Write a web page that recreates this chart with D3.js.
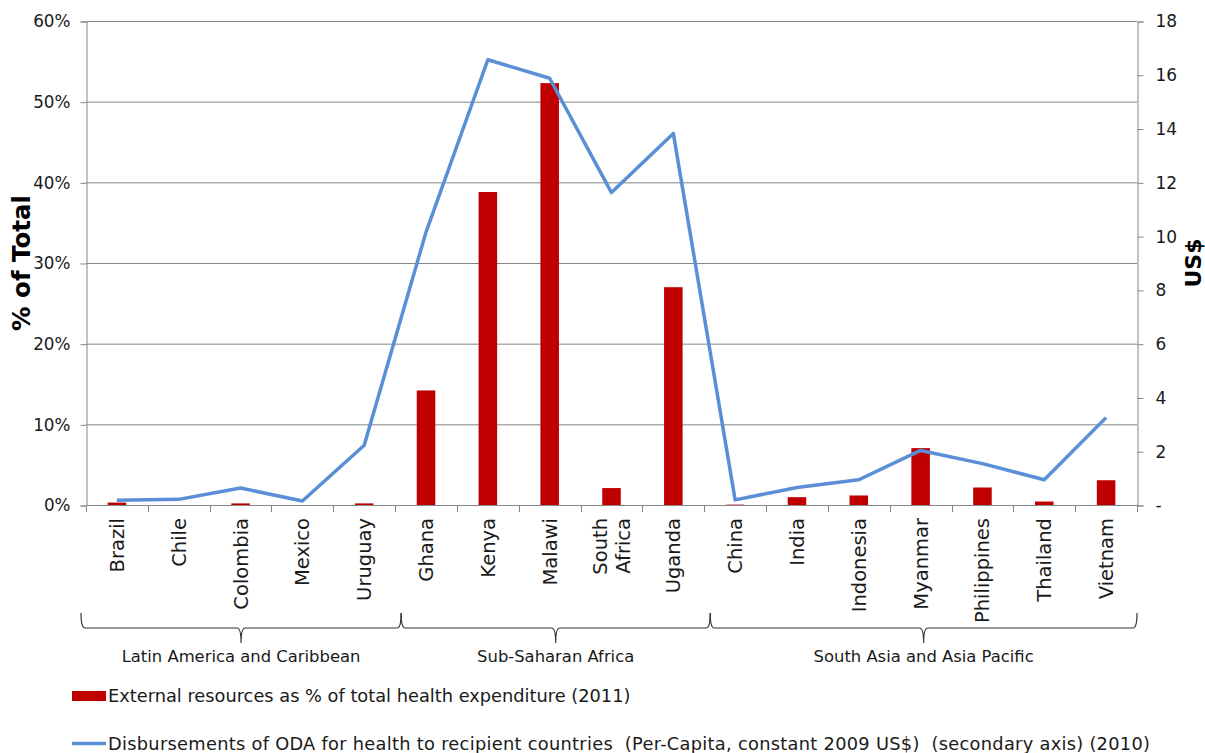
<!DOCTYPE html>
<html>
<head>
<meta charset="utf-8">
<script src="https://cdn.jsdelivr.net/npm/d3@7"></script>
<style>
  html, body { margin: 0; padding: 0; background: #fff; }
  svg { display: block; font-family: "DejaVu Sans", Verdana, sans-serif; }
</style>
</head>
<body>
<svg id="chart" width="1205" height="753"></svg>
<script>
// Countries, in plotting order (a "\n" breaks a label onto two lines)
const countries = ["Brazil", "Chile", "Colombia", "Mexico", "Uruguay",
  "Ghana", "Kenya", "Malawi", "South\nAfrica", "Uganda",
  "China", "India", "Indonesia", "Myanmar", "Philippines", "Thailand", "Vietnam"];

// External resources as share of total health expenditure (2011)
const externalShare = [0.003, 0.0, 0.002, 0.0, 0.002,
  0.142, 0.388, 0.523, 0.021, 0.270,
  0.0005, 0.0097, 0.0118, 0.0705, 0.0217, 0.0043, 0.0307];

// ODA for health disbursements per capita, constant 2009 US$ (2010)
const odaPerCapita = [0.18, 0.21, 0.63, 0.15, 2.22,
  10.15, 16.56, 15.87, 11.62, 13.82,
  0.19, 0.65, 0.94, 2.03, 1.54, 0.94, 3.25];

// Regional groups: name and index range of the countries they cover
const groupNames = ["Latin America and Caribbean", "Sub-Saharan Africa", "South Asia and Asia Pacific"];
const groupStart = [0, 5, 10];
const groupEnd = [4, 9, 16];

// Axis ticks
const leftTicks = [0, 0.1, 0.2, 0.3, 0.4, 0.5, 0.6];
const rightTicks = [0, 2, 4, 6, 8, 10, 12, 14, 16, 18];

const legendLabels = [
  "External resources as % of total health expenditure (2011)",
  "Disbursements of ODA for health to recipient countries \u00a0(Per-Capita, constant 2009 US$) \u00a0(secondary axis) (2010)"
];

const svg = d3.select("#chart");
const plot = { left: 86, right: 1137, top: 21, bottom: 505 };
const gridColor = "#868686";
const barColor = "#C00000";
const lineColor = "#5A8FD7";
const textColor = "#1a1a1a";

const x = d3.scaleBand().domain(d3.range(countries.length))
  .range([plot.left, plot.right]).paddingInner(0).paddingOuter(0);
const yLeft = d3.scaleLinear().domain([0, 0.6]).range([plot.bottom, plot.top]);
const yRight = d3.scaleLinear().domain([0, 18]).range([plot.bottom, plot.top]);

// Horizontal gridlines
svg.append("g").selectAll("line").data(leftTicks.slice(1)).join("line")
  .attr("x1", plot.left).attr("x2", plot.right)
  .attr("y1", d => yLeft(d) + 0.5).attr("y2", d => yLeft(d) + 0.5)
  .attr("stroke", gridColor).attr("stroke-width", 1);

// Left axis
const leftAxis = svg.append("g").attr("transform", `translate(${plot.left + 0.5},0.5)`)
  .call(d3.axisLeft(yLeft).tickValues(leftTicks).tickFormat(d3.format(".0%"))
    .tickSize(6).tickPadding(10));
leftAxis.select(".domain").attr("stroke", gridColor);
leftAxis.selectAll(".tick line").attr("stroke", gridColor);
leftAxis.selectAll(".tick text").attr("fill", textColor)
  .style("font-size", "16.8px").style("font-family", "DejaVu Sans, sans-serif");

// Right axis
const rightAxis = svg.append("g").attr("transform", `translate(${plot.right + 0.5},0.5)`)
  .call(d3.axisRight(yRight).tickValues(rightTicks).tickFormat(d => d === 0 ? "-" : d)
    .tickSize(6).tickPadding(12));
rightAxis.select(".domain").attr("stroke", gridColor);
rightAxis.selectAll(".tick line").attr("stroke", gridColor);
rightAxis.selectAll(".tick text").attr("fill", textColor)
  .style("font-size", "17px").style("font-family", "DejaVu Sans, sans-serif");

// Bottom category axis with ticks at category boundaries
const bottom = svg.append("g");
bottom.append("line").attr("x1", plot.left).attr("x2", plot.right)
  .attr("y1", plot.bottom + 0.5).attr("y2", plot.bottom + 0.5)
  .attr("stroke", gridColor);
const boundaries = d3.range(countries.length + 1).map(i => i < countries.length ? x(i) : plot.right);
bottom.selectAll("line.sep").data(boundaries).join("line").attr("class", "sep")
  .attr("x1", d => Math.round(d) + 0.5).attr("x2", d => Math.round(d) + 0.5)
  .attr("y1", plot.bottom).attr("y2", plot.bottom + 7)
  .attr("stroke", gridColor);

// Category labels, rotated and ending just below the axis
const catLabels = bottom.selectAll("g.cat").data(countries).join("g").attr("class", "cat");
catLabels.each(function(name, i) {
  const lines = name.split("\n");
  const cx = x(i) + x.bandwidth() / 2;
  const step = 23;
  lines.forEach((ln, j) => {
    const off = (j - (lines.length - 1) / 2) * step;
    d3.select(this).append("text")
      .attr("transform", `translate(${cx + off},518) rotate(-90)`)
      .attr("text-anchor", "end")
      .attr("dy", "0.36em")
      .attr("fill", textColor)
      .style("font-size", "19.5px")
      .text(ln);
  });
});

// Bars
svg.append("g").selectAll("rect").data(externalShare).join("rect")
  .attr("x", (d, i) => x(i) + x.bandwidth() * 0.35)
  .attr("width", x.bandwidth() * 0.3)
  .attr("y", d => yLeft(d))
  .attr("height", d => plot.bottom - yLeft(d))
  .attr("fill", barColor);

// Line on secondary axis
const line = d3.line()
  .x((d, i) => x(i) + x.bandwidth() / 2)
  .y(d => yRight(d));
svg.append("path").datum(odaPerCapita)
  .attr("d", line)
  .attr("fill", "none")
  .attr("stroke", lineColor)
  .attr("stroke-width", 3.5)
  .attr("stroke-linejoin", "round");

// Group braces and labels
const braceTop = 613, braceMid = 628, braceTip = 643;
groupNames.forEach((g, k) => {
  const x0 = k === 0 ? plot.left - 5 : x(groupStart[k]) + 6;
  const x1 = groupEnd[k] === countries.length - 1 ? plot.right : x(groupEnd[k]) + x.bandwidth() + 6;
  const mid = (x0 + x1) / 2;
  const r = 4;
  const p = d3.path();
  p.moveTo(x0, braceTop);
  p.quadraticCurveTo(x0, braceMid, x0 + r, braceMid);
  p.lineTo(mid - r, braceMid);
  p.quadraticCurveTo(mid, braceMid, mid, braceTip);
  p.moveTo(mid, braceTip);
  p.quadraticCurveTo(mid, braceMid, mid + r, braceMid);
  p.lineTo(x1 - r, braceMid);
  p.quadraticCurveTo(x1, braceMid, x1, braceTop);
  svg.append("path").attr("d", p.toString())
    .attr("fill", "none").attr("stroke", "#333").attr("stroke-width", 1.2);
  svg.append("text").attr("x", mid).attr("y", 662)
    .attr("text-anchor", "middle").attr("fill", textColor)
    .style("font-size", "16.4px").text(g);
});

// Axis titles
svg.append("text")
  .attr("transform", "translate(30,263) rotate(-90)")
  .attr("text-anchor", "middle").attr("font-weight", "bold")
  .attr("fill", "#000").style("font-size", "24.5px").text("% of Total");
svg.append("text")
  .attr("transform", "translate(1201,263) rotate(-90)")
  .attr("text-anchor", "middle").attr("font-weight", "bold")
  .attr("fill", "#000").style("font-size", "22px").text("US$");

// Legend
const legend = svg.append("g");
legend.append("rect").attr("x", 72).attr("y", 691).attr("width", 34).attr("height", 10)
  .attr("fill", barColor);
legend.append("text").attr("x", 108).attr("y", 702).attr("fill", textColor)
  .style("font-size", "17.8px").text(legendLabels[0]);
legend.append("line").attr("x1", 72).attr("x2", 106).attr("y1", 743.5).attr("y2", 743.5)
  .attr("stroke", lineColor).attr("stroke-width", 3.5);
legend.append("text").attr("x", 108).attr("y", 750).attr("fill", textColor)
  .attr("textLength", 1042).attr("lengthAdjust", "spacing")
  .style("font-size", "17.8px").text(legendLabels[1]);
</script>
</body>
</html>
